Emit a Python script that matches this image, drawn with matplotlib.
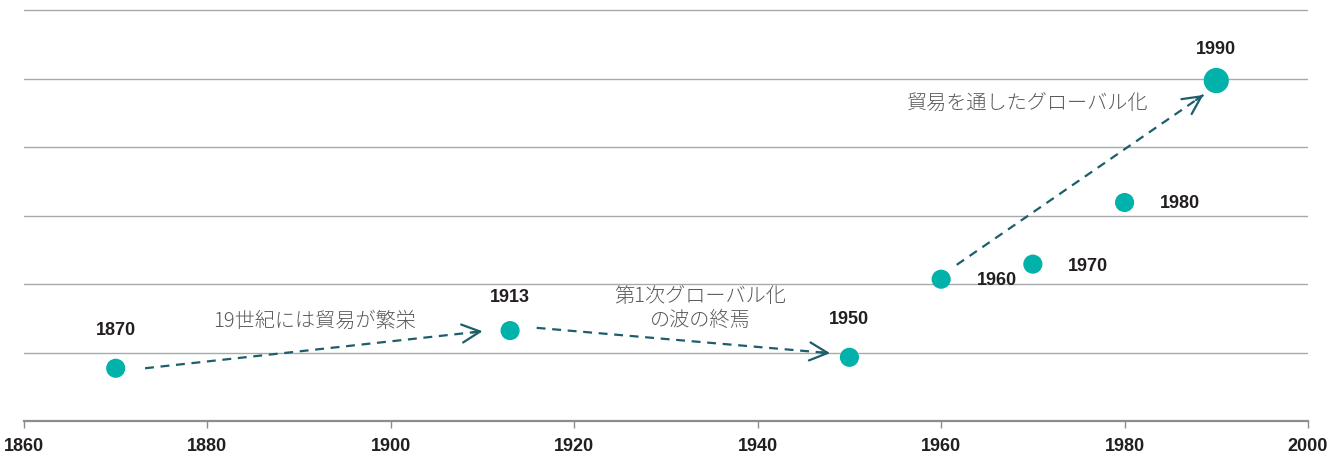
import matplotlib
matplotlib.use("Agg")
import matplotlib.pyplot as plt

plt.rcParams['font.family'] = ['Liberation Sans', 'Noto Sans CJK JP', 'DejaVu Sans']

# trade share by benchmark year
years = [1870, 1913, 1950, 1960, 1970, 1980, 1990]
share = [7.7, 13.2, 9.3, 20.7, 22.9, 31.9, 49.7]
sizes = [190, 190, 190, 190, 190, 190, 330]
# label offsets in points (dx, dy) relative to each dot
label_offsets = [(0, 27), (0, 24), (0, 27), (40, -1), (40, -2), (40, -1), (0, 22)]

arrows = [((1873.2, 7.7), (1910.0, 13.1)),
          ((1915.9, 13.6), (1947.9, 9.9)),
          ((1961.7, 22.8), (1988.6, 47.6))]
notes = [(1891.7, 14.6, "19世紀には貿易が繁栄"),
         (1933.7, 16.4, "第1次グローバル化\nの波の終焉"),
         (1969.4, 46.4, "貿易を通したグローバル化")]

dot_color = "#00B2A9"
arrow_color = "#1C5E69"
grid_color = "#A7A9AC"

fig = plt.figure(figsize=(13.4, 4.54), dpi=100)
W, H = 1340, 454
x0, x1 = 24, 1308
y0 = 421
ytop = 61.0
px_per_unit = (421 - 10) / 60.0
ax = fig.add_axes([x0 / W, (H - y0) / H, (x1 - x0) / W, ytop * px_per_unit / H])

ax.set_xlim(1860, 2000)
ax.set_ylim(0, ytop)

for g in range(10, 61, 10):
    ax.axhline(g, color=grid_color, lw=1.0, zorder=1)

ax.scatter(years, share, s=sizes, color=dot_color, edgecolors="none", zorder=3)

for x, y, (dx, dy) in zip(years, share, label_offsets):
    ax.annotate(str(x), (x, y), xytext=(dx, dy), textcoords="offset points",
                ha="center", va="center", fontsize=13, fontweight="bold",
                color="#231F20")

# dashed shaft, then a solid open head on the last bit of it
for (sx, sy), (ex, ey) in arrows:
    ax.plot([sx, ex], [sy, ey], color=arrow_color, lw=1.6,
            linestyle=(0, (4, 3)), zorder=2)
    bx = ex - 0.03 * (ex - sx)
    by = ey - 0.03 * (ey - sy)
    ax.annotate("", xy=(ex, ey), xytext=(bx, by),
                arrowprops=dict(arrowstyle="->,head_length=1.3,head_width=0.65",
                                color=arrow_color, lw=1.6,
                                shrinkA=0, shrinkB=0), zorder=2)

for x, y, t in notes:
    ax.text(x, y, t, ha="center", va="center", fontsize=14.5, color="#5A5A5C",
            family=['Noto Sans CJK JP'], fontweight="light", linespacing=1.15)

for side in ("top", "right", "left"):
    ax.spines[side].set_visible(False)
ax.spines["bottom"].set_color("#8C8C8C")
ax.spines["bottom"].set_linewidth(1.6)

ax.set_yticks([])
ax.set_xticks(range(1860, 2001, 20))
ax.tick_params(axis="x", length=5, width=1, color="#8C8C8C", pad=7,
               labelsize=13, labelcolor="#231F20")
for lbl in ax.get_xticklabels():
    lbl.set_fontweight("bold")

fig.savefig("out.png", dpi=100)
